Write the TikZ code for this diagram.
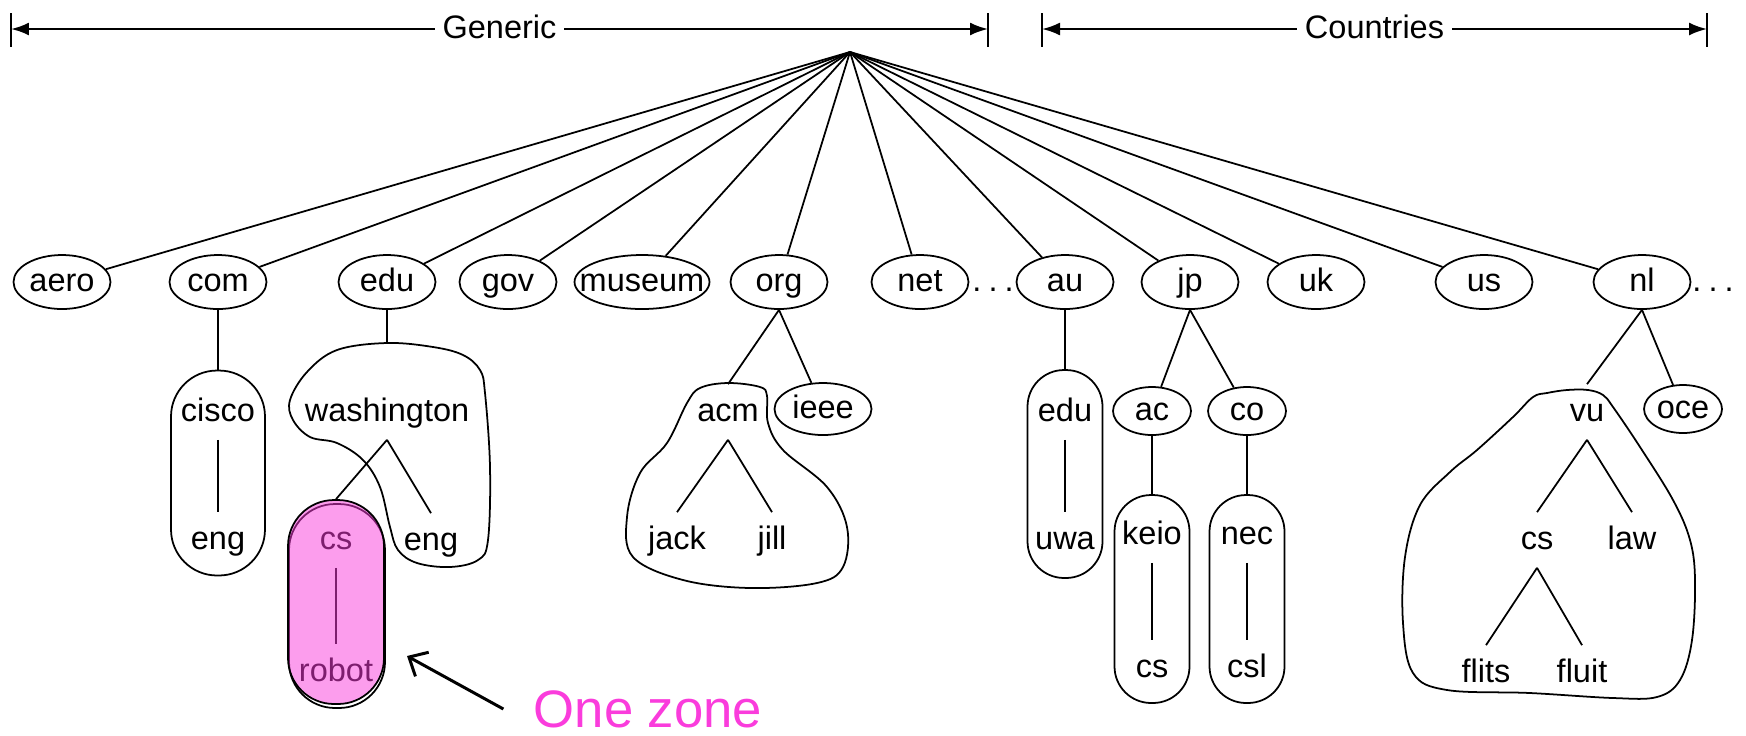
\documentclass[tikz,border=0pt]{standalone}
\usepackage{fontspec}
\setmainfont{Liberation Sans}
\usetikzlibrary{shapes.geometric,arrows.meta}
\definecolor{zonepink}{RGB}{250,60,220}

\begin{document}
\begin{tikzpicture}[x=0.02cm,y=-0.02cm,line join=round,
  font=\fontsize{18.5}{22}\selectfont,
  txt/.style={inner xsep=0pt,inner ysep=0.24cm,text height=0.49cm,text depth=0.13cm},
  dom/.style={txt,ellipse,draw,line width=1pt,inner sep=0pt,minimum width=1.94cm,minimum height=1.08cm},
  sub/.style={dom,minimum width=1.56cm,minimum height=0.96cm},
  zone/.style={draw,line width=1pt,rounded corners=0.92cm,minimum width=1.88cm,minimum height=4.1cm},
  thin zone/.style={zone,rounded corners=0.73cm,minimum width=1.5cm,minimum height=4.16cm},
  tree/.style={line width=1pt},
  link/.style={line width=1.6pt},
  blob/.style={line width=1pt},
  span/.style={line width=1.3pt,{Latex[length=0.36cm,width=0.26cm]}-{Latex[length=0.36cm,width=0.26cm]}},
  spanlbl/.style={fill=white,inner xsep=0.16cm,inner ysep=0pt,text height=0.49cm,text depth=0.13cm},
  pointer/.style={line width=1.7pt,-{Straight Barb[length=0.3cm,width=0.55cm]}}]
  \useasboundingbox (0,0) rectangle (1746,735);

  \coordinate (genl) at (11,29);
  \coordinate (genr) at (988,29);
  \coordinate (conl) at (1042,29);
  \coordinate (conr) at (1707,29);
  \draw[span] (genl) -- node[spanlbl] {Generic} (genr);
  \draw[span] (conl) -- node[spanlbl] {Countries} (conr);
  \foreach \c in {genl,genr,conl,conr}
    \draw[line width=1.3pt] (\c) ++(0,-16) -- ++(0,34);

  \coordinate (root) at (850,52);
  \node[dom]                  (aero)   at (62,282)   {aero};
  \node[dom]                  (com)    at (218,282)  {com};
  \node[dom]                  (edu)    at (387,282)  {edu};
  \node[dom]                  (gov)    at (508,282)  {gov};
  \node[dom,minimum width=2.7cm,inner xsep=-0.3cm] (museum) at (642,282) {museum};
  \node[dom]                  (org)    at (779,282)  {org};
  \node[dom]                  (net)    at (920,282)  {net};
  \node[txt]                  (moreA)  at (993,282)  {.\hspace{.22em}.\hspace{.22em}.};
  \node[dom]                  (au)     at (1065,282) {au};
  \node[dom]                  (jp)     at (1190,282) {jp};
  \node[dom]                  (uk)     at (1316,282) {uk};
  \node[dom]                  (us)     at (1484,282) {us};
  \node[dom]                  (nl)     at (1642,282) {nl};
  \node[txt]                  (moreB)  at (1713,282) {.\hspace{.22em}.\hspace{.22em}.};
  \foreach \d in {aero,com,edu,gov,museum,org,net,au,jp,uk,us,nl}
    \draw[tree] (root) -- (\d);

  \node[zone]                 (ciscozone) at (218,473) {};
  \node[txt]                  (cisco)     at (218,412) {cisco};
  \node[txt]                  (ciscoeng)  at (218,540) {eng};

  \coordinate (washtop) at (387,343);
  \draw[blob] plot[smooth cycle,tension=0.6] coordinates {(387,343) (433,347) (463,355) (480,370)
    (485,393) (490,467) (488,540) (478,560) (450,567) (417,563) (398,550) (390,527) (380,487)
    (363,460) (337,443) (310,437) (293,420) (290,400) (307,372) (337,350)};
  \node[txt]                  (washington) at (387,412) {washington};
  \node[txt]                  (washeng)    at (431,541) {eng};
  \node[zone,minimum width=1.92cm,minimum height=4.08cm] (csbase) at (337,606) {};
  \node[txt]                  (cs)        at (336,540) {cs};
  \node[txt]                  (robot)     at (336,672) {robot};
  \draw[link] (cs) -- (robot);
  \node[zone,minimum width=1.92cm,minimum height=4.08cm,fill=zonepink,fill opacity=0.5] (cszone) at (336,602) {};

  \draw[blob] plot[smooth cycle,tension=0.6] coordinates {(728,383) (760,387) (767,396) (768,423)
    (783,450) (827,487) (847,527) (843,567) (817,583) (750,588) (683,580) (633,557) (627,517)
    (640,473) (667,443) (687,403) (700,388)};
  \node[txt]                  (acm)    at (728,412) {acm};
  \node[dom,minimum height=1.04cm] (ieee) at (823,409) {ieee};
  \node[txt]                  (jack)   at (677,540) {jack};
  \node[txt]                  (jill)   at (772,540) {jill};

  \node[thin zone]            (eduzone)  at (1065,474) {};
  \node[txt]                  (auedu)    at (1065,412) {edu};
  \node[txt]                  (uwa)      at (1065,540) {uwa};
  \node[sub]                  (ac)       at (1152,411) {ac};
  \node[sub]                  (co)       at (1247,411) {co};
  \node[thin zone]            (keiozone) at (1152,599) {};
  \node[txt]                  (keio)     at (1152,535) {keio};
  \node[txt]                  (keiocs)   at (1152,668) {cs};
  \node[thin zone]            (neczone)  at (1247,599) {};
  \node[txt]                  (nec)      at (1247,535) {nec};
  \node[txt]                  (csl)      at (1247,668) {csl};

  \draw[blob] plot[smooth cycle,tension=0.6] coordinates {(1588,390) (1603,395) (1613,407)
    (1640,447) (1673,500) (1690,540) (1695,580) (1692,640) (1680,680) (1657,697) (1613,698)
    (1530,693) (1447,690) (1413,673) (1403,623) (1405,557) (1420,505) (1450,472) (1477,450)
    (1513,417) (1533,397) (1547,393) (1567,390)};
  \node[txt]                  (vu)     at (1587,412) {vu};
  \node[sub]                  (oce)    at (1683,409) {oce};
  \node[txt]                  (vucs)   at (1537,540) {cs};
  \node[txt]                  (law)    at (1632,540) {law};
  \node[txt]                  (flits)  at (1486,673) {flits};
  \node[txt]                  (fluit)  at (1582,673) {fluit};

  \path[tree]
    (com)        edge (ciscozone)
    (edu)        edge (washtop)
    (washington.south) edge (cszone.north)
                 edge (washeng.north)
    (org.south)  edge (acm.north)
                 edge (ieee)
    (acm.south)  edge (jack.north)
                 edge (jill.north)
    (au)         edge (eduzone)
    (jp.south)   edge (ac)
                 edge (co)
    (ac)         edge (keiozone)
    (co)         edge (neczone)
    (nl.south)   edge (vu.north)
                 edge (oce)
    (vu.south)   edge (vucs.north)
                 edge (law.north)
    (vucs.south) edge (flits.north)
                 edge (fluit.north);
  \path[link]
    (cisco)  edge (ciscoeng)
    (auedu)  edge (uwa)
    (keio)   edge (keiocs)
    (nec)    edge (csl);

  \node[text=zonepink,font=\fontsize{30}{34}\selectfont,inner xsep=0.6cm] (onezone) at (648,709) {One zone};
  \coordinate (zonetip) at (407,656);
  \draw[pointer] (onezone.west) -- (zonetip);
\end{tikzpicture}
\end{document}
